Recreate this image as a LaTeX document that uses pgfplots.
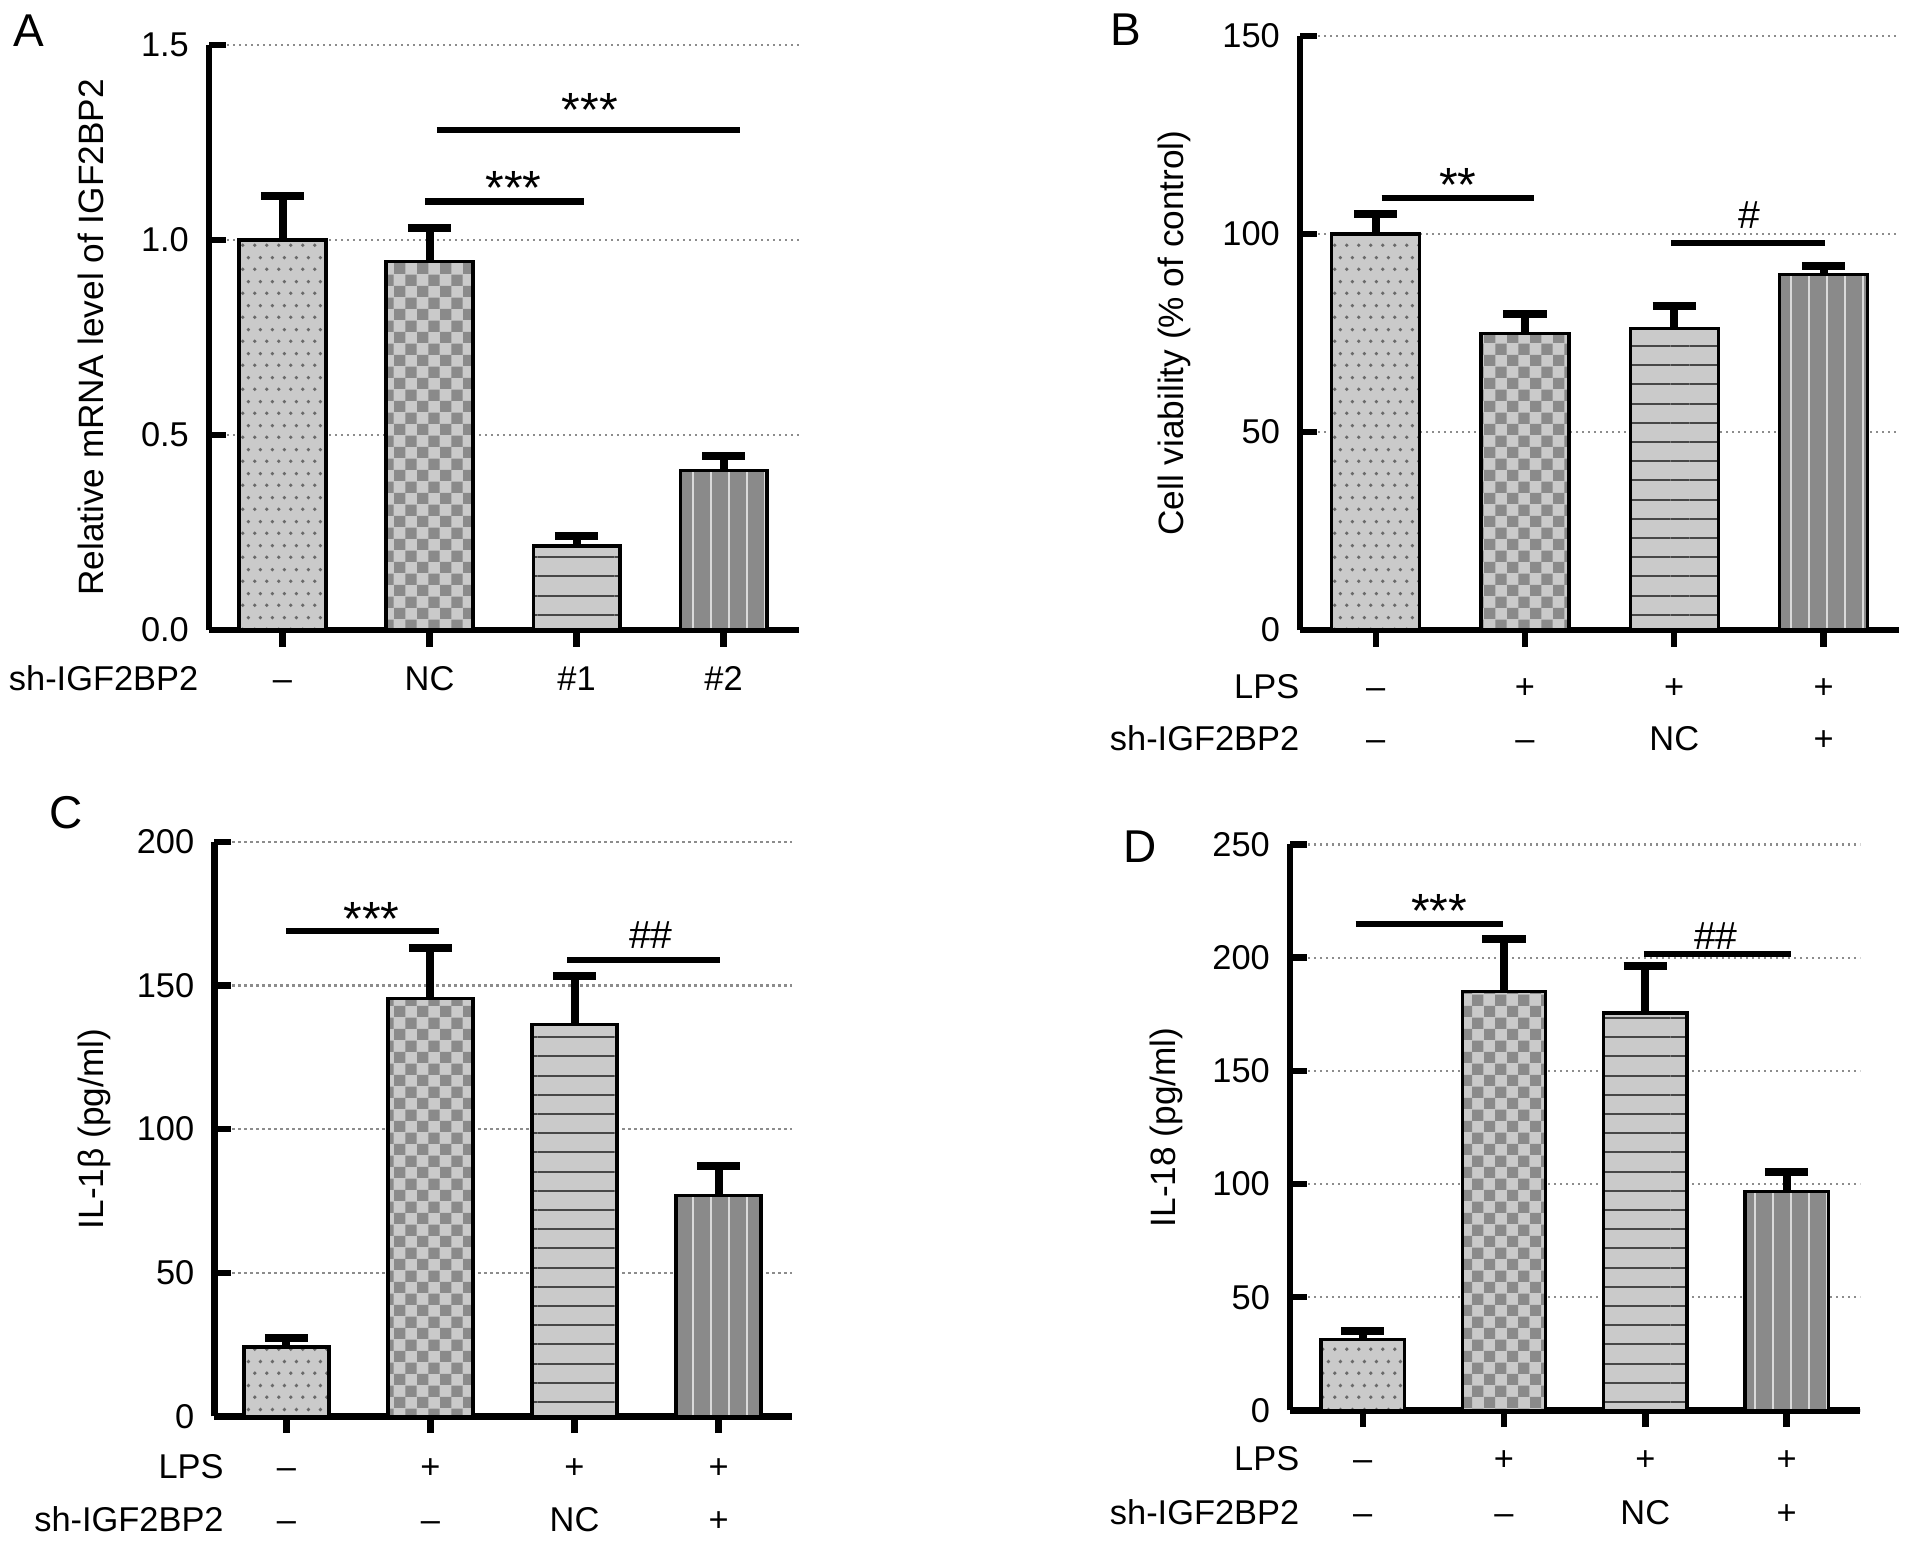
\documentclass[border=0pt]{standalone}
\usepackage{fontspec}
\setmainfont{Liberation Sans}
\usepackage{pgfplots}
\pgfplotsset{compat=1.18}
\usetikzlibrary{patterns}

\definecolor{cLight}{RGB}{202,202,202}
\definecolor{cDark}{RGB}{138,138,138}
\definecolor{cDot}{RGB}{105,105,105}
\definecolor{cVLine}{RGB}{218,218,218}
\definecolor{cGrid}{RGB}{140,140,140}

% fill patterns of the four groups
\pgfdeclarepatternformonly{PDots}{\pgfpointorigin}{\pgfqpoint{3pt}{6pt}}{\pgfqpoint{3pt}{6pt}}{%
  \pgfpathcircle{\pgfqpoint{0.75pt}{1.5pt}}{0.5pt}%
  \pgfpathcircle{\pgfqpoint{2.25pt}{4.5pt}}{0.5pt}%
  \pgfusepath{fill}}
\pgfdeclarepatternformonly{PChecker}{\pgfpointorigin}{\pgfqpoint{5.8pt}{5.8pt}}{\pgfqpoint{5.8pt}{5.8pt}}{%
  \pgfpathrectangle{\pgfpointorigin}{\pgfqpoint{2.9pt}{2.9pt}}%
  \pgfpathrectangle{\pgfqpoint{2.9pt}{2.9pt}}{\pgfqpoint{2.9pt}{2.9pt}}%
  \pgfusepath{fill}}
\pgfdeclarepatternformonly{PHLines}{\pgfqpoint{0pt}{2pt}}{\pgfqpoint{4.8pt}{2.8pt}}{\pgfqpoint{4.8pt}{4.8pt}}{%
  \pgfsetlinewidth{0.5pt}%
  \pgfpathmoveto{\pgfqpoint{0pt}{2.4pt}}\pgfpathlineto{\pgfqpoint{4.8pt}{2.4pt}}%
  \pgfusepath{stroke}}
\pgfdeclarepatternformonly{PVLines}{\pgfqpoint{2pt}{0pt}}{\pgfqpoint{2.5pt}{4.5pt}}{\pgfqpoint{4.5pt}{4.5pt}}{%
  \pgfsetlinewidth{0.5pt}%
  \pgfpathmoveto{\pgfqpoint{2.25pt}{0pt}}\pgfpathlineto{\pgfqpoint{2.25pt}{4.5pt}}%
  \pgfusepath{stroke}}

\newcommand{\tickfont}{\fontsize{8.6}{10}\selectfont}
\newcommand{\labfont}{\fontsize{8.8}{10}\selectfont}

\pgfplotsset{
  panel/.style={
    scale only axis, clip=false, anchor=south west,
    axis x line*=bottom, axis y line*=left,
    axis line style={line width=1.7pt},
    tick align=inside,
    major tick length=4.2pt,
    every tick/.style={black, line width=1.6pt},
    xtick style={yshift=-4.2pt},
    xtick={0,1,2,3}, xticklabels={},
    ymin=0,
    ymajorgrids,
    major grid style={cGrid, line width=0.55pt, dash pattern=on 0.6pt off 0.9pt},
    ticklabel style={font=\tickfont},
    yticklabel style={xshift=-1.5pt},
    /pgf/number format/assume math mode=true,
    every axis y label/.style={rotate=90, anchor=center, font=\labfont},
  },
  errb/.style={
    error bars/y dir=plus, error bars/y explicit,
    error bars/error bar style={line width=2pt, black, solid},
    error bars/error mark options={rotate=90, mark size=5.4pt, line width=2pt, black}},
  barbase/.style={ybar, bar width=0.59, bar shift=0pt, draw=black, line width=0.85pt, errb},
  b1/.style={barbase, preaction={fill=cLight}, pattern=PDots, pattern color=cDot},
  b2/.style={barbase, preaction={fill=cLight}, pattern=PChecker, pattern color=cDark},
  b3/.style={barbase, preaction={fill=cLight}, pattern=PHLines, pattern color=black!72},
  b4/.style={barbase, preaction={fill=cDark}, pattern=PVLines, pattern color=cVLine},
  sig/.style={sharp plot, black, line width=1.6pt, mark=none, forget plot},
}
\tikzset{
  stars/.style={font=\fontsize{12}{14}\selectfont, inner sep=0pt, yshift=-2.6pt},
  hash/.style={font=\fontsize{9.8}{12}\selectfont, inner sep=0pt},
  rowlab/.style={font=\tickfont, inner sep=0pt, anchor=base},
  letter/.style={font=\fontsize{11.5}{13}\selectfont, inner sep=0pt},
}

\begin{document}
\begin{tikzpicture}
\useasboundingbox (0,0) rectangle (478.25pt,386.5pt);

\node[letter] at (7.25pt,378.9pt) {A};
\node[letter] at (281.5pt,379.2pt) {B};
\node[letter] at (16.5pt,183.4pt) {C};
\node[letter] at (284.9pt,174.8pt) {D};

% A
\begin{axis}[panel, at={(52.25pt,229pt)}, width=147.4pt, height=146.25pt,
  xmin=-0.5, xmax=3.51, ymax=1.5, ytick={0,0.5,1,1.5},
  yticklabels={0.0,0.5,1.0,1.5},
  ylabel={Relative mRNA level of IGF2BP2},
  ylabel style={at={([xshift=-29.4pt]rel axis cs:0,0.5)}}]
\addplot[b1] coordinates {(0,1.000) +- (0,0.113)};
\addplot[b2] coordinates {(1,0.945) +- (0,0.085)};
\addplot[b3] coordinates {(2,0.215) +- (0,0.026)};
\addplot[b4] coordinates {(3,0.409) +- (0,0.038)};
\addplot[sig] coordinates {(0.97,1.099) (2.05,1.099)};
\addplot[sig] coordinates {(1.05,1.282) (3.11,1.282)};
\node[stars] at (axis cs:1.57,1.16) {***};
\node[stars] at (axis cs:2.09,1.359) {***};
\node[rowlab, anchor=base east] at ([xshift=-2.5pt,yshift=-15pt]rel axis cs:0,0) {sh-IGF2BP2};
\node[rowlab] at ([yshift=-15pt]axis cs:0,0) {--};
\node[rowlab] at ([yshift=-15pt]axis cs:1,0) {NC};
\node[rowlab] at ([yshift=-15pt]axis cs:2,0) {\#1};
\node[rowlab] at ([yshift=-15pt]axis cs:3,0) {\#2};
\end{axis}

% B
\begin{axis}[panel, at={(325pt,229pt)}, width=149.8pt, height=148.5pt,
  xmin=-0.507, xmax=3.507, ymax=150, ytick={0,50,100,150},
  ylabel={Cell viability (\% of control)},
  ylabel style={at={([xshift=-31.5pt]rel axis cs:0,0.5)}}]
\addplot[b1] coordinates {(0,100.0) +- (0,5.1)};
\addplot[b2] coordinates {(1,74.9) +- (0,5.0)};
\addplot[b3] coordinates {(2,76.2) +- (0,5.7)};
\addplot[b4] coordinates {(3,89.8) +- (0,2.0)};
\addplot[sig] coordinates {(0.04,109.1) (1.06,109.1)};
\addplot[sig] coordinates {(1.98,97.8) (3.01,97.8)};
\node[stars] at (axis cs:0.55,115) {**};
\node[hash] at (axis cs:2.50,104.9) {\#};
\node[rowlab, anchor=base east] at ([yshift=-17pt]rel axis cs:0,0) {LPS};
\node[rowlab, anchor=base east] at ([yshift=-30.2pt]rel axis cs:0,0) {sh-IGF2BP2};
\node[rowlab] at ([yshift=-17pt]axis cs:0,0) {--};
\node[rowlab] at ([yshift=-17pt]axis cs:1,0) {+};
\node[rowlab] at ([yshift=-17pt]axis cs:2,0) {+};
\node[rowlab] at ([yshift=-17pt]axis cs:3,0) {+};
\node[rowlab] at ([yshift=-30.2pt]axis cs:0,0) {--};
\node[rowlab] at ([yshift=-30.2pt]axis cs:1,0) {--};
\node[rowlab] at ([yshift=-30.2pt]axis cs:2,0) {NC};
\node[rowlab] at ([yshift=-30.2pt]axis cs:3,0) {+};
\end{axis}

% C
\begin{axis}[panel, at={(53.6pt,32.4pt)}, width=144.4pt, height=143.65pt,
  xmin=-0.5, xmax=3.51, ymax=200, ytick={0,50,100,150,200},
  ylabel={IL-1β (pg/ml)},
  ylabel style={at={([xshift=-30pt]rel axis cs:0,0.5)}}]
\addplot[b1] coordinates {(0,24.2) +- (0,3.0)};
\addplot[b2] coordinates {(1,145.4) +- (0,17.8)};
\addplot[b3] coordinates {(2,136.5) +- (0,16.9)};
\addplot[b4] coordinates {(3,77.0) +- (0,10.0)};
\addplot[sig] coordinates {(0,169) (1.06,169)};
\addplot[sig] coordinates {(1.95,158.8) (3.01,158.8)};
\node[stars] at (axis cs:0.59,176.7) {***};
\node[hash] at (axis cs:2.53,167.6) {\#\#};
\node[rowlab, anchor=base east] at ([xshift=2.5pt,yshift=-15.6pt]rel axis cs:0,0) {LPS};
\node[rowlab, anchor=base east] at ([xshift=2.5pt,yshift=-28.7pt]rel axis cs:0,0) {sh-IGF2BP2};
\node[rowlab] at ([yshift=-15.6pt]axis cs:0,0) {--};
\node[rowlab] at ([yshift=-15.6pt]axis cs:1,0) {+};
\node[rowlab] at ([yshift=-15.6pt]axis cs:2,0) {+};
\node[rowlab] at ([yshift=-15.6pt]axis cs:3,0) {+};
\node[rowlab] at ([yshift=-28.7pt]axis cs:0,0) {--};
\node[rowlab] at ([yshift=-28.7pt]axis cs:1,0) {--};
\node[rowlab] at ([yshift=-28.7pt]axis cs:2,0) {NC};
\node[rowlab] at ([yshift=-28.7pt]axis cs:3,0) {+};
\end{axis}

% D
\begin{axis}[panel, at={(322.5pt,33.9pt)}, width=142.5pt, height=141.5pt,
  xmin=-0.515, xmax=3.52, ymax=250, ytick={0,50,100,150,200,250},
  ylabel={IL-18 (pg/ml)},
  ylabel style={at={([xshift=-31pt]rel axis cs:0,0.5)}}]
\addplot[b1] coordinates {(0,31.2) +- (0,3.7)};
\addplot[b2] coordinates {(1,185.0) +- (0,23.2)};
\addplot[b3] coordinates {(2,175.5) +- (0,20.8)};
\addplot[b4] coordinates {(3,96.6) +- (0,8.7)};
\addplot[sig] coordinates {(-0.05,214.9) (0.99,214.9)};
\addplot[sig] coordinates {(1.99,201.7) (3.03,201.7)};
\node[stars] at (axis cs:0.54,225) {***};
\node[hash] at (axis cs:2.50,209.3) {\#\#};
\node[rowlab, anchor=base east] at ([xshift=2.5pt,yshift=-15pt]rel axis cs:0,0) {LPS};
\node[rowlab, anchor=base east] at ([xshift=2.5pt,yshift=-28.4pt]rel axis cs:0,0) {sh-IGF2BP2};
\node[rowlab] at ([yshift=-15pt]axis cs:0,0) {--};
\node[rowlab] at ([yshift=-15pt]axis cs:1,0) {+};
\node[rowlab] at ([yshift=-15pt]axis cs:2,0) {+};
\node[rowlab] at ([yshift=-15pt]axis cs:3,0) {+};
\node[rowlab] at ([yshift=-28.4pt]axis cs:0,0) {--};
\node[rowlab] at ([yshift=-28.4pt]axis cs:1,0) {--};
\node[rowlab] at ([yshift=-28.4pt]axis cs:2,0) {NC};
\node[rowlab] at ([yshift=-28.4pt]axis cs:3,0) {+};
\end{axis}
\end{tikzpicture}
\end{document}
